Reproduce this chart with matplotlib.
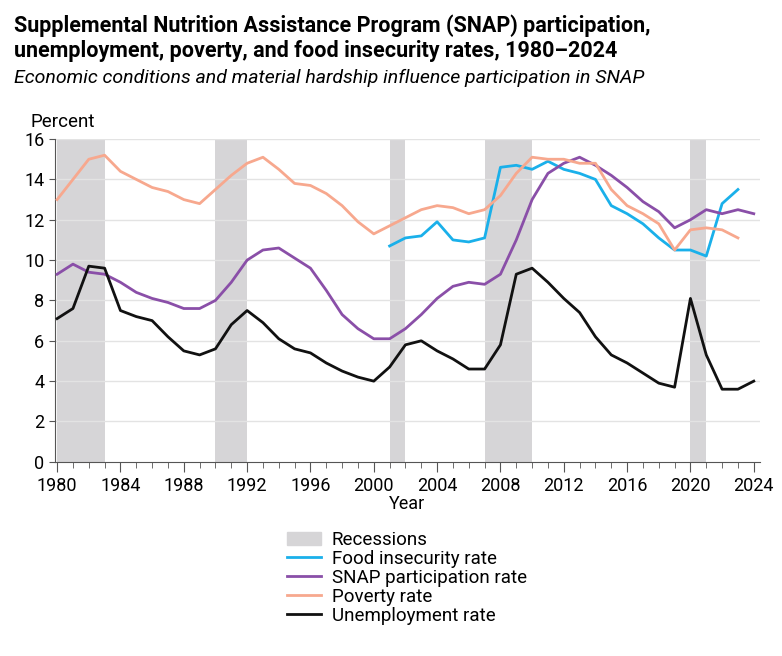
import matplotlib
matplotlib.use("Agg")
import matplotlib.pyplot as plt
from matplotlib.patches import Patch
from matplotlib.lines import Line2D
import numpy as np

plt.rcParams['font.family'] = ['Roboto', 'DejaVu Sans']

years = list(range(1980, 2025))
unemployment = [7.1,7.6,9.7,9.6,7.5,7.2,7.0,6.2,5.5,5.3,5.6,6.8,7.5,6.9,6.1,5.6,5.4,4.9,4.5,4.2,
                4.0,4.7,5.8,6.0,5.5,5.1,4.6,4.6,5.8,9.3,9.6,8.9,8.1,7.4,6.2,5.3,4.9,4.4,3.9,3.7,
                8.1,5.3,3.6,3.6,4.0]
poverty_years = list(range(1980, 2024))
poverty = [13.0,14.0,15.0,15.2,14.4,14.0,13.6,13.4,13.0,12.8,13.5,14.2,14.8,15.1,14.5,13.8,13.7,13.3,12.7,11.9,
           11.3,11.7,12.1,12.5,12.7,12.6,12.3,12.5,13.2,14.3,15.1,15.0,15.0,14.8,14.8,13.5,12.7,12.3,11.8,10.5,
           11.5,11.6,11.5,11.1]
snap = [9.3,9.8,9.4,9.3,8.9,8.4,8.1,7.9,7.6,7.6,8.0,8.9,10.0,10.5,10.6,10.1,9.6,8.5,7.3,6.6,
        6.1,6.1,6.6,7.3,8.1,8.7,8.9,8.8,9.3,11.0,13.0,14.3,14.8,15.1,14.7,14.2,13.6,12.9,12.4,11.6,
        12.0,12.5,12.3,12.5,12.3]
food_years = list(range(2001, 2024))
food = [10.7,11.1,11.2,11.9,11.0,10.9,11.1,14.6,14.7,14.5,14.9,14.5,14.3,14.0,12.7,12.3,11.8,11.1,10.5,10.5,
        10.2,12.8,13.5]
recessions = [(1980, 1983), (1990, 1992), (2001, 2002), (2007, 2010), (2020, 2021)]

fig = plt.figure(figsize=(7.82, 6.56), dpi=100)
ax = fig.add_axes([0.070, 0.296, 0.902, 0.492])

for a, b in recessions:
    ax.axvspan(a, b, color='#d6d5d7', lw=0, zorder=0)
for y in range(2, 17, 2):
    ax.axhline(y, color='#e3e3e3', lw=1, zorder=0.5)

ax.plot(food_years, food, color='#1ab0ea', lw=2, zorder=3)
ax.plot(years, snap, color='#8a4fa8', lw=2, zorder=3)
ax.plot(poverty_years, poverty, color='#f7a88e', lw=2, zorder=3)
ax.plot(years, unemployment, color='#111111', lw=2, zorder=3)

ax.set_xlim(1979.85, 2024.4)
ax.set_ylim(0, 16)
ax.set_yticks(range(0, 17, 2))
ax.set_xticks(range(1980, 2025, 4))
ax.set_xticks(range(1980, 2025), minor=True)
ax.tick_params(axis='x', which='major', length=7, color='#555555', labelsize=13, pad=4)
ax.tick_params(axis='x', which='minor', length=4, color='#555555')
ax.tick_params(axis='y', length=4, color='#555555', labelsize=13)
for s in ['top', 'right']:
    ax.spines[s].set_visible(False)
for s in ['left', 'bottom']:
    ax.spines[s].set_color('#555555')
ax.set_xlabel('Year', fontsize=13, labelpad=0)
ax.text(-0.035, 1.025, 'Percent', transform=ax.transAxes, fontsize=13.5, va='bottom', ha='left')

fig.text(0.018, 0.978, 'Supplemental Nutrition Assistance Program (SNAP) participation,\nunemployment, poverty, and food insecurity rates, 1980–2024',
         fontsize=15.5, fontweight='bold', va='top', ha='left', linespacing=1.15)
fig.text(0.018, 0.895, 'Economic conditions and material hardship influence participation in SNAP',
         fontsize=14, style='italic', va='top', ha='left')

handles = [Patch(color='#d6d5d7', label='Recessions'),
           Line2D([], [], color='#1ab0ea', lw=2, label='Food insecurity rate'),
           Line2D([], [], color='#8a4fa8', lw=2, label='SNAP participation rate'),
           Line2D([], [], color='#f7a88e', lw=2, label='Poverty rate'),
           Line2D([], [], color='#111111', lw=2, label='Unemployment rate')]
fig.legend(handles=handles, loc='upper left', bbox_to_anchor=(0.355, 0.205), frameon=False,
           fontsize=13.5, handlelength=1.8, labelspacing=0.05, borderpad=0, handletextpad=0.6)

fig.savefig('out.png', dpi=100)
